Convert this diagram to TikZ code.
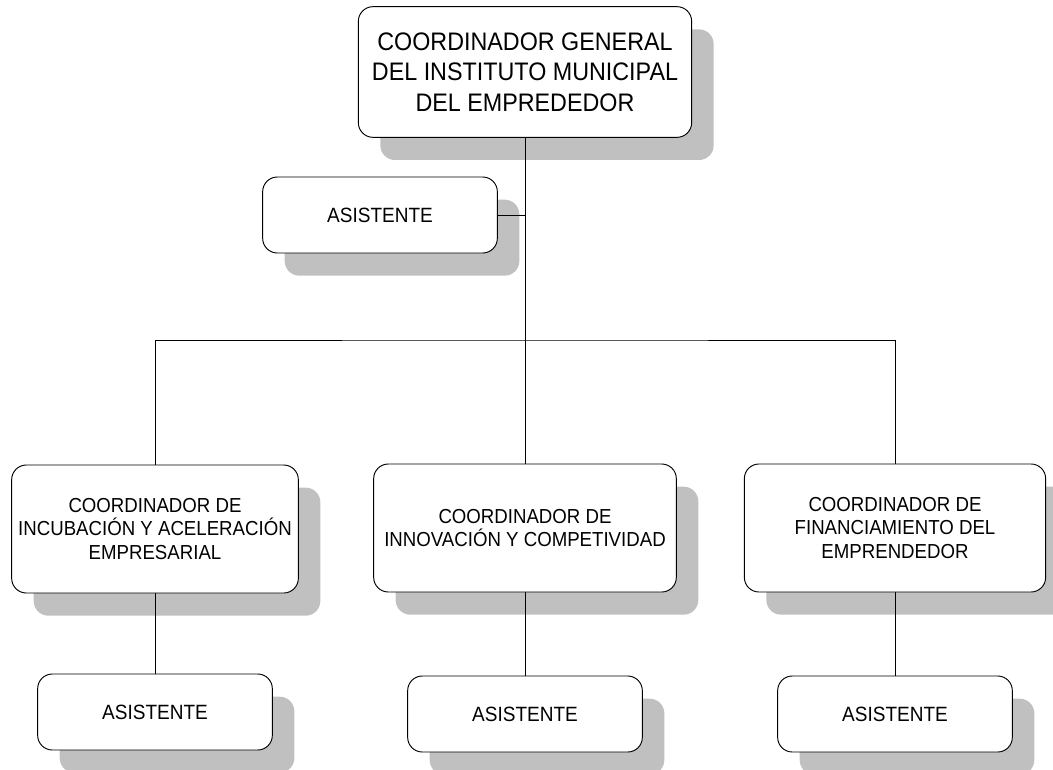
\documentclass[tikz,border=0pt]{standalone}
\usepackage{fontspec}
\setmainfont{Liberation Sans}[FakeStretch=0.92]
\usepackage{xcolor}
\usetikzlibrary{shadows}
\definecolor{shade}{HTML}{C0C0C0}
\definecolor{ink}{HTML}{000000}
\definecolor{paper}{HTML}{FFFFFF}
\tikzset{
  unit/.style={draw=ink, line width=0.7pt, fill=paper, rounded corners=11pt,
    align=center, inner sep=0pt,
    drop shadow={shadow xshift=16.5pt, shadow yshift=-17pt, fill=shade, opacity=1}},
  headbox/.style={unit, minimum width=250pt, minimum height=98pt,
    font=\fontsize{19}{23}\selectfont},
  coordbox/.style={unit, minimum height=96pt,
    font=\fontsize{15.2}{17.5}\selectfont},
  asstbox/.style={unit, minimum width=176pt, minimum height=57pt,
    font=\fontsize{15.5}{18}\selectfont},
  link/.style={draw=ink, line width=0.7pt}
}
\begin{document}
\begin{tikzpicture}[x=0.75pt, y=-0.75pt]
  \useasboundingbox (0,0) rectangle (1053,770);

  % head and its assistant
  \node[headbox] (top) at (525,72) {COORDINADOR GENERAL\\DEL INSTITUTO MUNICIPAL\\DEL EMPREDEDOR};
  \node[asstbox] (asst0) at (380,215) {ASISTENTE};
  \coordinate (bus) at (525,340);

  % coordinators
  \node[coordbox, minimum width=215pt] (left) at (155,529) {COORDINADOR DE\\INCUBACIÓN Y ACELERACIÓN\\EMPRESARIAL};
  \node[coordbox, minimum width=227pt] (mid) at (525,528) {COORDINADOR DE\\INNOVACIÓN Y COMPETIVIDAD};
  \node[coordbox, minimum width=226pt] (right) at (895,528) {COORDINADOR DE\\FINANCIAMIENTO DEL\\EMPRENDEDOR};

  % assistants
  \node[asstbox] (asst1) at (155,712) {ASISTENTE};
  \node[asstbox] (asst2) at (525,714) {ASISTENTE};
  \node[asstbox] (asst3) at (895,714) {ASISTENTE};

  \draw[link] (top.south) -- (bus);
  \draw[link] (asst0.east) -- (asst0.east -| bus);
  \draw[link] (left.north) |- (bus) -| (right.north);
  \draw[link] (bus) -- (mid.north);
  \draw[link] (left.south) -- (asst1.north);
  \draw[link] (mid.south) -- (asst2.north);
  \draw[link] (right.south) -- (asst3.north);
\end{tikzpicture}
\end{document}
